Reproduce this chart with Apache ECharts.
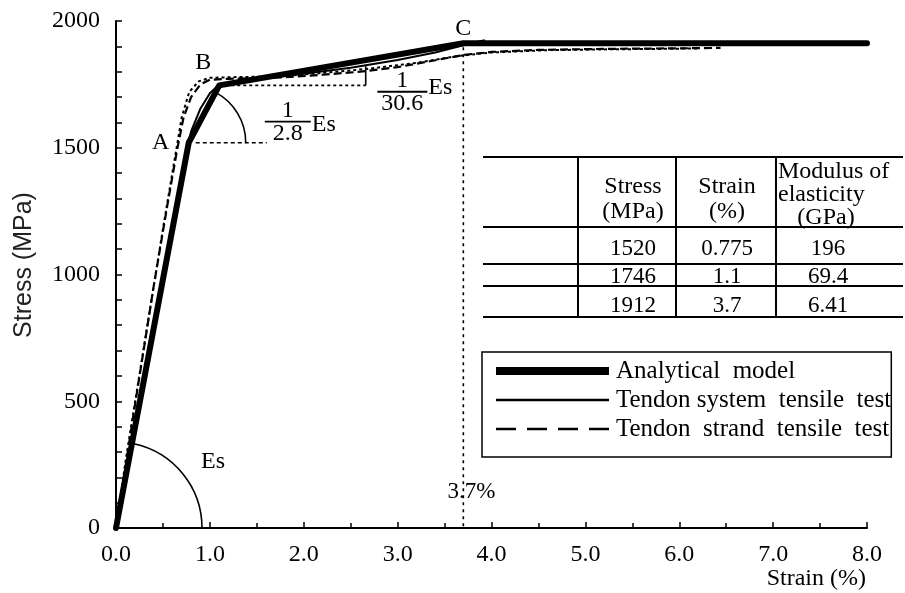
<!DOCTYPE html>
<html>
<head>
<meta charset="utf-8">
<script src="https://cdn.jsdelivr.net/npm/echarts@6/dist/echarts.min.js"></script>
<style>
html, body { margin: 0; padding: 0; background: #fff; }
#chart { width: 905px; height: 593px; }
</style>
</head>
<body>
<div id="chart"></div>
<script>
// Key points of the analytical tri-linear model (A, B, C)
const pointStress = [1520, 1746, 1912];          // MPa
const pointStrain = [0.775, 1.1, 3.7];           // %
const pointModulus = ['196', '69.4', '6.41'];    // GPa
const pointNames = ['A', 'B', 'C'];
const strainEnd = 8.0;

// Measured curves (strain %, stress MPa)
const systemTest = [
  [0, 0], [0.1, 190], [0.3, 590], [0.5, 990], [0.7, 1390], [0.8, 1565], [0.9, 1655],
  [1.0, 1715], [1.1, 1750], [1.3, 1764], [1.6, 1774], [2.0, 1792], [2.5, 1816],
  [3.0, 1846], [3.4, 1876], [3.7, 1904], [3.85, 1918], [3.93, 1924]
];
const strandTest = [
  [0, 0], [0.05, 120], [0.2, 480], [0.4, 950], [0.55, 1280], [0.65, 1490], [0.72, 1620],
  [0.8, 1700], [0.9, 1750], [1.0, 1768], [1.2, 1772], [1.5, 1775], [1.8, 1778],
  [2.2, 1788], [2.6, 1800], [3.0, 1818], [3.4, 1845], [3.7, 1866], [4.0, 1878],
  [4.5, 1886], [5.0, 1889], [5.5, 1891], [6.0, 1892], [6.44, 1894]
];
const strandTest2 = [
  [0, 0], [0.1, 260], [0.3, 720], [0.5, 1180], [0.6, 1400], [0.7, 1620], [0.78, 1720],
  [0.88, 1762], [1.0, 1776], [1.3, 1779], [1.7, 1781], [2.2, 1795], [2.7, 1812],
  [3.2, 1835], [3.6, 1860], [4.0, 1876], [4.6, 1885], [5.2, 1888], [5.8, 1890], [6.2, 1892]
];

// Axis ranges
const xMin = 0, xMax = 8, xStep = 1;
const yMin = 0, yMax = 2000, yStep = 500;

// Table contents
const tableHeaders = [['Stress', '(MPa)'], ['Strain', '(%)'], ['Modulus of', 'elasticity', '(GPa)']];
const tableRows = pointStress.map((s, i) => [String(s), String(pointStrain[i]), pointModulus[i]]);

// Legend names
const seriesNames = ['Analytical  model', 'Tendon system  tensile  test', 'Tendon  strand  tensile  test'];

const analyticalModel = [[0, 0]]
  .concat(pointStrain.map((e, i) => [e, pointStress[i]]))
  .concat([[strainEnd, pointStress[pointStress.length - 1]]]);

const SERIF = '"Liberation Serif", "Times New Roman", serif';
const SANS = '"Liberation Sans", Arial, sans-serif';
const hiddenSymbol = { color: 'rgba(0,0,0,0)', borderWidth: 0, opacity: 0 };

const chart = echarts.init(document.getElementById('chart'), null, { renderer: 'canvas' });

chart.setOption({
  animation: false,
  backgroundColor: '#fff',
  grid: { left: 116, right: 38, top: 21, bottom: 65, containLabel: false },
  xAxis: {
    type: 'value', min: xMin, max: xMax, interval: xStep,
    name: 'Strain (%)', nameLocation: 'end', nameGap: -1,
    nameTextStyle: { fontFamily: SERIF, fontSize: 24, color: '#000', align: 'right', verticalAlign: 'top', padding: [39, 0, 0, 0] },
    axisLine: { show: true, lineStyle: { color: '#000', width: 2 } },
    axisTick: { show: true, inside: true, length: 6, lineStyle: { color: '#000', width: 1.5 } },
    minorTick: { show: true, splitNumber: 2, length: 5, lineStyle: { color: '#000', width: 1.5 } },
    axisLabel: { formatter: v => v.toFixed(1), fontFamily: SERIF, fontSize: 24, color: '#000', margin: 15 },
    splitLine: { show: false }
  },
  yAxis: {
    type: 'value', min: yMin, max: yMax, interval: yStep,
    name: 'Stress (MPa)', nameLocation: 'middle', nameGap: 79,
    nameTextStyle: { fontFamily: SANS, fontSize: 25, color: '#222', padding: [0, 0, 0, 19] },
    axisLine: { show: true, lineStyle: { color: '#000', width: 2 } },
    axisTick: { show: true, inside: true, length: 6, lineStyle: { color: '#000', width: 1.5 } },
    minorTick: { show: true, splitNumber: 5, length: 6, lineStyle: { color: '#000', width: 1.5 } },
    axisLabel: { formatter: v => String(v), fontFamily: SERIF, fontSize: 24, color: '#000', margin: 16 },
    splitLine: { show: false }
  },
  legend: {
    orient: 'vertical', left: 482, top: 352,
    itemWidth: 113, itemHeight: 14, itemGap: 4,
    borderColor: '#000', borderWidth: 1.5, borderRadius: 0,
    padding: [6.5, 0, 15.5, 10],
    textStyle: { fontFamily: SERIF, fontSize: 25, color: '#000', padding: [0, 0, 0, 2] },
    data: [
      { name: seriesNames[0], itemStyle: hiddenSymbol, lineStyle: { width: 8, type: 'solid', color: '#000', cap: 'butt' } },
      { name: seriesNames[1], itemStyle: hiddenSymbol, lineStyle: { width: 2.5, type: 'solid', color: '#000', cap: 'butt' } },
      { name: seriesNames[2], itemStyle: hiddenSymbol, lineStyle: { width: 2.5, type: [20, 11], color: '#000', cap: 'butt' } }
    ]
  },
  series: [
    {
      name: seriesNames[2], type: 'line', data: strandTest2, showSymbol: false, symbol: 'none', z: 2,
      lineStyle: { color: '#000', width: 2, type: [3, 3] }, itemStyle: { color: '#000' }
    },
    {
      name: seriesNames[2], type: 'line', data: strandTest, showSymbol: false, symbol: 'none', z: 3,
      lineStyle: { color: '#000', width: 2.2, type: [8, 4] }, itemStyle: { color: '#000' }
    },
    {
      name: seriesNames[1], type: 'line', data: systemTest, showSymbol: false, symbol: 'none', z: 4,
      lineStyle: { color: '#000', width: 2 }, itemStyle: { color: '#000' }
    },
    {
      name: seriesNames[0], type: 'line', data: analyticalModel, showSymbol: false, symbol: 'none', z: 5,
      lineStyle: { color: '#000', width: 6, cap: 'round', join: 'round' }, itemStyle: { color: '#000' }
    }
  ]
});

// Annotations placed from data coordinates
function px(p) { return chart.convertToPixel({ gridIndex: 0 }, p); }
function txt(text, x, y, opts) {
  return {
    type: 'text', z: 20, silent: true,
    style: Object.assign({ text: text, x: x, y: y, fill: '#000', font: '23px ' + SERIF, align: 'center', verticalAlign: 'middle' }, opts || {})
  };
}
function seg(x1, y1, x2, y2, dash, w) {
  return {
    type: 'line', z: 15, silent: true,
    shape: { x1: x1, y1: y1, x2: x2, y2: y2 },
    style: { stroke: '#000', lineWidth: w || 1.5, lineDash: dash || null }
  };
}
function arc(cx, cy, r, a0, a1) {
  return {
    type: 'arc', z: 15, silent: true,
    shape: { cx: cx, cy: cy, r: r, startAngle: a0, endAngle: a1, clockwise: true },
    style: { stroke: '#000', lineWidth: 1.6, fill: null }
  };
}
function fraction(cx, cy, num, den, halfW, esDy) {
  return [
    seg(cx - halfW, cy, cx + halfW, cy, null, 1.8),
    txt(num, cx, cy - 11, { font: '24px ' + SERIF }),
    txt(den, cx, cy + 12, { font: '24px ' + SERIF }),
    txt('Es', cx + halfW + 1, cy + esDy, { align: 'left', font: '24px ' + SERIF })
  ];
}

const O = px([0, 0]);
const A = px([pointStrain[0], pointStress[0]]);
const B = px([pointStrain[1], pointStress[1]]);
const C = px([pointStrain[2], pointStress[2]]);
const C0 = px([pointStrain[2], 0]);
const slopeEnd = px([2.66, pointStress[1]]);
const slopeTop = px([2.66, 1822]);
const f1 = px([1.83, 1603]);
const f2 = px([3.05, 1721]);

const g = [];
// Initial modulus arc at the origin
g.push(arc(O[0], O[1], 86, Math.atan2(A[1] - O[1], A[0] - O[0]) + 0.02, 0));
g.push(txt('Es', O[0] + 97, O[1] - 66, { font: '24px ' + SERIF }));
// Angle arc at A for the second branch
g.push(arc(A[0], A[1], 57, Math.atan2(B[1] - A[1], B[0] - A[0]), 0));
g.push(seg(A[0] + 7, A[1], A[0] + 78, A[1], [4, 3], 1.6));
// Slope triangle for the third branch
g.push(seg(B[0], B[1], slopeEnd[0], slopeEnd[1], [3, 3], 1.6));
g.push(seg(slopeEnd[0], slopeEnd[1], slopeTop[0], slopeTop[1], null, 1.6));
// Ultimate strain marker
g.push(seg(C[0], C[1] + 4, C0[0], C0[1], [3, 4], 1.6));
g.push(txt('3.7%', C0[0] + 8, C0[1] - 36));
// Point labels
g.push(txt(pointNames[0], A[0] - 28, A[1], { font: '24px ' + SERIF }));
g.push(txt(pointNames[1], B[0] - 16, B[1] - 23, { font: '24px ' + SERIF }));
g.push(txt(pointNames[2], C[0], C[1] - 15, { font: '24px ' + SERIF }));
// Slope fractions
fraction(f1[0], f1[1], '1', '2.8', 23, 3).forEach(e => g.push(e));
fraction(f2[0], f2[1], '1', '30.6', 25, -4).forEach(e => g.push(e));

// Table of key points
const tblLeft = 483, tblRight = 903;
const rowY = [157, 227, 264, 286, 317];
const colX = [578, 676, 776];
rowY.forEach(y => g.push(seg(tblLeft, y, tblRight, y, null, 2)));
colX.forEach(x => g.push(seg(x, rowY[0], x, rowY[rowY.length - 1], null, 2)));
const colCenter = [633, 727, 828];
const HF = '24px ' + SERIF, DF = '23px ' + SERIF;
g.push(txt(tableHeaders[0][0], colCenter[0], 187, { font: HF }));
g.push(txt(tableHeaders[0][1], colCenter[0], 212, { font: HF }));
g.push(txt(tableHeaders[1][0], colCenter[1], 187, { font: HF }));
g.push(txt(tableHeaders[1][1], colCenter[1], 212, { font: HF }));
g.push(txt(tableHeaders[2][0], 778, 172, { font: HF, align: 'left' }));
g.push(txt(tableHeaders[2][1], 778, 195, { font: HF, align: 'left' }));
g.push(txt(tableHeaders[2][2], 826, 218, { font: HF }));
const rowCenter = [249, 277, 306];
tableRows.forEach((row, r) => {
  row.forEach((cell, c) => g.push(txt(cell, colCenter[c], rowCenter[r], { font: DF })));
});

chart.setOption({ graphic: { elements: g } });
</script>
</body>
</html>
